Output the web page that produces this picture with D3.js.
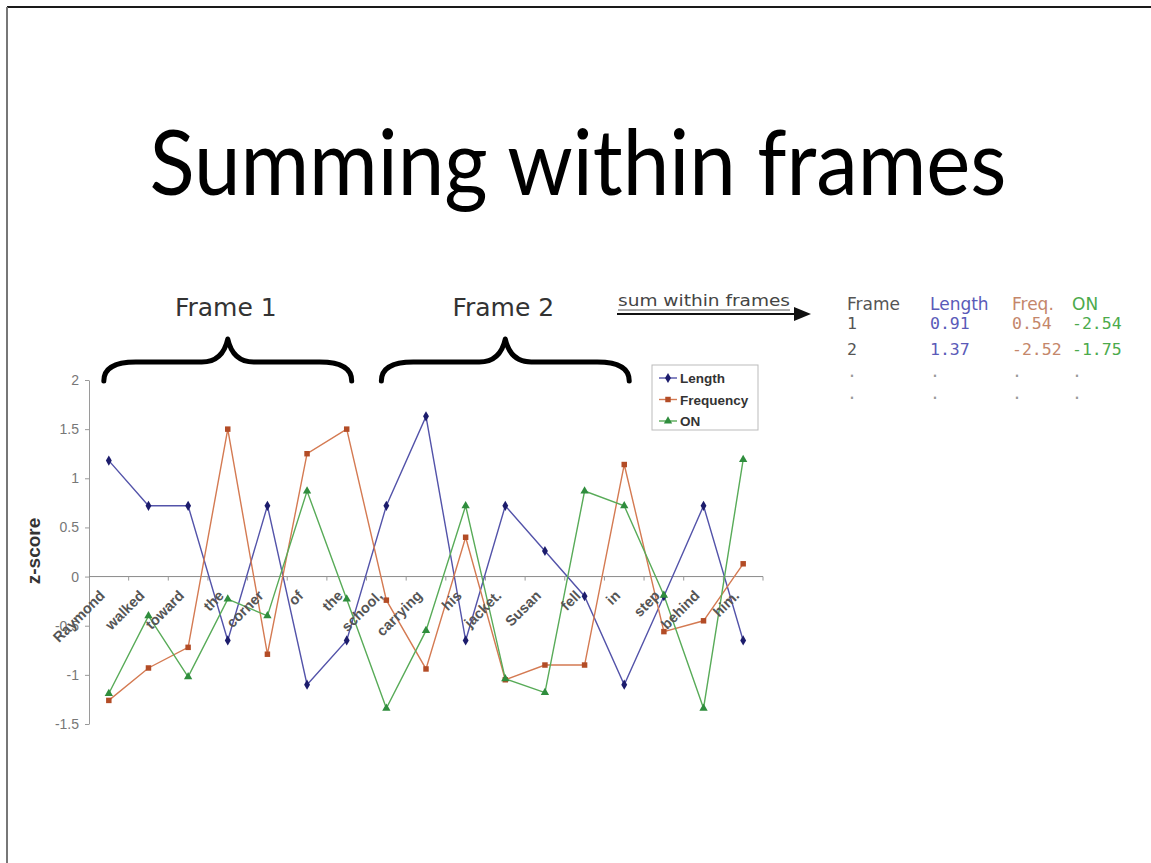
<!DOCTYPE html>
<html>
<head>
<meta charset="utf-8">
<script src="https://cdn.jsdelivr.net/npm/d3@7"></script>
<style>
  html, body { margin: 0; padding: 0; background: #fff; }
  svg { display: block; }
</style>
</head>
<body>
<svg id="chart" width="1151" height="863"></svg>
<script>
// ---------- data ----------
const words = ["Raymond","walked","toward","the","corner","of","the","school,","carrying","his","jacket.","Susan","fell","in","step","behind","him."];
const lengthZ = [1.18,0.72,0.72,-0.65,0.72,-1.10,-0.65,0.72,1.63,-0.65,0.72,0.26,-0.20,-1.10,-0.20,0.72,-0.65];
const freqZ   = [-1.26,-0.93,-0.72,1.50,-0.79,1.25,1.50,-0.24,-0.94,0.40,-1.05,-0.90,-0.90,1.14,-0.56,-0.45,0.13];
const onZ     = [-1.19,-0.40,-1.02,-0.23,-0.40,0.87,-0.23,-1.34,-0.55,0.72,-1.04,-1.18,0.87,0.72,-0.19,-1.34,1.19];
const seriesNames = ["Length","Frequency","ON"];
const yTickValues = [2,1.5,1,0.5,0,-0.5,-1,-1.5];
const yTickLabels = ["2","1.5","1","0.5","0","-0.5","-1","-1.5"];
const frameLabels = ["Frame 1","Frame 2"];
const frameRanges = [[0,6],[7,13]];
const tableHeader = ["Frame","Length","Freq.","ON"];
const tableRows = [["1","0.91","0.54","-2.54"],["2","1.37","-2.52","-1.75"],[".",".",".","."],[".",".",".","."]];

// ---------- styles ----------
const lineColors   = ["#5353a9","#d47a52","#58ab58"];
const markerColors = ["#1c1c6c","#b34c26","#2f8d3d"];
const markerTypes  = [d3.symbolDiamond, d3.symbolSquare, d3.symbolTriangle];
const markerSizes  = [30, 30, 30];
const tableColors  = ["#555","#5a5ab8","#c4866a","#4caa4c"];

const svg = d3.select("#chart");

// slide border
svg.append("line").attr("x1",7).attr("y1",7).attr("x2",1151).attr("y2",7).attr("stroke","#1a1a1a").attr("stroke-width",2);
svg.append("line").attr("x1",7).attr("y1",7).attr("x2",7).attr("y2",863).attr("stroke","#777").attr("stroke-width",2);

// title
svg.append("text")
  .attr("x",578).attr("y",195)
  .attr("text-anchor","middle")
  .attr("font-family","Lato, 'Open Sans', sans-serif")
  .attr("font-size",92)
  .attr("textLength",857).attr("lengthAdjust","spacingAndGlyphs")
  .attr("fill","#000")
  .text("Summing within frames");

// ---------- scales ----------
const x = d3.scaleBand().domain(d3.range(words.length)).range([89, 763]).paddingInner(0).paddingOuter(0);
const y = d3.scaleLinear().domain([-1.5, 2]).range([724, 380]);
const cx = i => x(i) + x.bandwidth()/2;

// y axis
const yAxis = d3.axisLeft(y).tickValues(yTickValues).tickSize(4).tickSizeOuter(0)
  .tickFormat((d,i) => yTickLabels[i]);
const gy = svg.append("g").attr("transform","translate(89,0)").call(yAxis);
gy.select(".domain").attr("stroke","#9a9a9a");
gy.selectAll(".tick line").attr("stroke","#9a9a9a");
gy.selectAll(".tick text").attr("font-family","Liberation Sans, Arial, sans-serif").attr("font-size",14).attr("fill","#777").attr("x",-10);

// zero line with boundary ticks
const zeroY = y(0);
svg.append("line").attr("x1",89).attr("x2",763).attr("y1",zeroY).attr("y2",zeroY).attr("stroke","#8a8a8a").attr("stroke-width",1);
svg.append("g").selectAll("line").data(d3.range(1, words.length+1)).join("line")
  .attr("x1", i => i < words.length ? x(i) : 763).attr("x2", i => i < words.length ? x(i) : 763)
  .attr("y1", zeroY).attr("y2", zeroY+4).attr("stroke","#9a9a9a");

// y title
svg.append("text")
  .attr("transform","translate(40,551) rotate(-90)")
  .attr("text-anchor","middle")
  .attr("font-family","Liberation Sans, Arial, sans-serif")
  .attr("font-weight","bold").attr("font-size",19).attr("fill","#333")
  .text("z-score");

// ---------- lines ----------
const allSeries = [lengthZ, freqZ, onZ];
const lineGen = d3.line().x((d,i) => cx(i)).y(d => y(d));
allSeries.forEach((s, k) => {
  svg.append("path").datum(s).attr("d", lineGen)
    .attr("fill","none").attr("stroke",lineColors[k]).attr("stroke-width",1.4);
});

// category labels
svg.append("g").selectAll("text").data(words).join("text")
  .attr("transform",(d,i) => `translate(${cx(i)-3},${zeroY+20}) rotate(-45)`)
  .attr("text-anchor","end")
  .attr("font-family","Liberation Sans, Arial, sans-serif")
  .attr("font-weight","bold").attr("font-size",14.5).attr("fill","#555")
  .text(d => d);

// markers
allSeries.forEach((s, k) => {
  svg.append("g").selectAll("path").data(s).join("path")
    .attr("transform",(d,i) => `translate(${cx(i)},${y(d)})`)
    .attr("d", d3.symbol().type(markerTypes[k]).size(markerSizes[k]))
    .attr("fill", markerColors[k]);
});

// ---------- legend ----------
const lg = svg.append("g");
lg.append("rect").attr("x",652).attr("y",365).attr("width",106).attr("height",65)
  .attr("fill","#fff").attr("stroke","#bbb").attr("stroke-width",1);
seriesNames.forEach((name,k) => {
  const ly = 378 + k*21.5;
  lg.append("line").attr("x1",659).attr("x2",677).attr("y1",ly).attr("y2",ly).attr("stroke",lineColors[k]).attr("stroke-width",1.4);
  lg.append("path").attr("transform",`translate(668,${ly})`).attr("d", d3.symbol().type(markerTypes[k]).size(markerSizes[k])).attr("fill",markerColors[k]);
  lg.append("text").attr("x",680).attr("y",ly+5)
    .attr("font-family","Liberation Sans, Arial, sans-serif").attr("font-weight","bold").attr("font-size",13.5).attr("fill","#333")
    .text(name);
});

// ---------- frame braces ----------
function bracePath(x0, x1, yEnd, yMid, yPeak) {
  const m = (x0 + x1)/2;
  return `M${x0},${yEnd} Q${x0},${yMid} ${x0+32},${yMid} L${m-26},${yMid} Q${m-5},${yMid} ${m},${yPeak} ` +
         `Q${m+5},${yMid} ${m+26},${yMid} L${x1-32},${yMid} Q${x1},${yMid} ${x1},${yEnd}`;
}
frameRanges.forEach((r, f) => {
  const x0 = cx(r[0]) - 5, x1 = cx(r[1]) + 5;
  svg.append("path").attr("d", bracePath(x0, x1, 381, 362, 339))
    .attr("fill","none").attr("stroke","#000").attr("stroke-width",5).attr("stroke-linecap","round").attr("stroke-linejoin","round");
  svg.append("text").attr("x",(x0+x1)/2 - 2).attr("y",316).attr("text-anchor","middle")
    .attr("font-family","DejaVu Sans, Verdana, sans-serif").attr("font-size",25).attr("fill","#333")
    .text(frameLabels[f]);
});

// ---------- sum within frames arrow ----------
svg.append("text").attr("x",618).attr("y",306)
  .attr("font-family","DejaVu Sans, Verdana, sans-serif").attr("font-size",16).attr("fill","#444")
  .attr("textLength",172).attr("lengthAdjust","spacingAndGlyphs")
  .text("sum within frames");
svg.append("line").attr("x1",618).attr("x2",790).attr("y1",310).attr("y2",310).attr("stroke","#555").attr("stroke-width",1);
svg.append("line").attr("x1",617).attr("x2",796).attr("y1",314).attr("y2",314).attr("stroke","#111").attr("stroke-width",2);
svg.append("path").attr("d","M794,307 L811,314 L794,321 Z").attr("fill","#111");

// ---------- table ----------
const colX = [847, 930, 1012, 1072];
tableHeader.forEach((h,c) => {
  svg.append("text").attr("x",colX[c]).attr("y",310)
    .attr("font-family","DejaVu Sans, Verdana, sans-serif").attr("font-size",17).attr("fill",tableColors[c])
    .text(h);
});
const rowY = [329, 355, 377, 399];
tableRows.forEach((row,r) => {
  row.forEach((v,c) => {
    svg.append("text").attr("x",colX[c]).attr("y",rowY[r])
      .attr("font-family","'DejaVu Sans Mono', 'Liberation Mono', monospace").attr("font-size",16.5)
      .attr("fill", r < 2 ? tableColors[c] : "#999")
      .text(v);
  });
});
</script>
</body>
</html>
